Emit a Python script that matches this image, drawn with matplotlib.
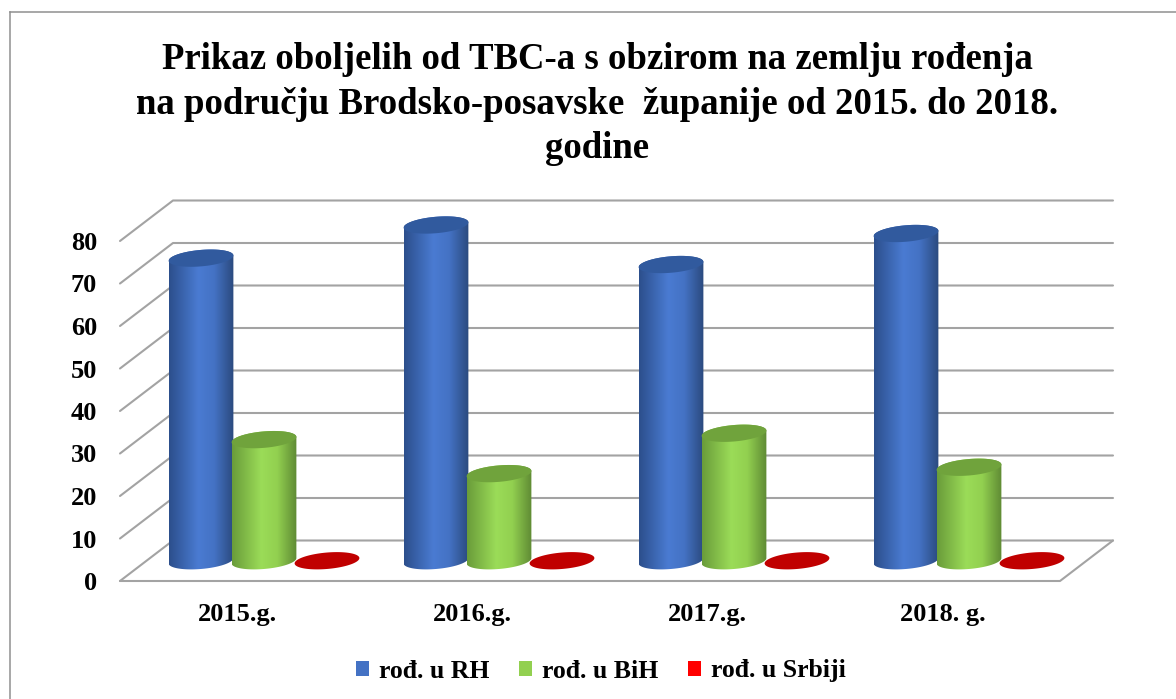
import numpy as np
import matplotlib
matplotlib.use('Agg')
import matplotlib.pyplot as plt
from matplotlib.colors import LinearSegmentedColormap
from matplotlib.lines import Line2D
from matplotlib.patches import Patch, Polygon

plt.rcParams['font.family'] = ['Liberation Serif', 'DejaVu Serif']
plt.rcParams['font.weight'] = 'bold'

title = ('Prikaz oboljelih od TBC-a s obzirom na zemlju rođenja\n'
         'na području Brodsko-posavske  županije od 2015. do 2018.\n'
         'godine')
years = ['2015.g.', '2016.g.', '2017.g.', '2018. g.']
series = ['rođ. u RH', 'rođ. u BiH', 'rođ. u Srbiji']
rh = [71.2, 79, 69.7, 77]
bih = [28.5, 20.5, 30, 22]
srbija = [0, 0, 0, 0]
y_ticks = [0, 10, 20, 30, 40, 50, 60, 70, 80]

legend_colors = ['#4472c4', '#92d050', '#ff0000']
top_colors = ['#315a9e', '#70a33c', '#c00000']
shades = [['#2c4f8c', '#4a7bd2', '#4472c4', '#2b4a7e'],
          ['#6a9c3a', '#9bdc58', '#92d050', '#5f8a34'],
          ['#c00000', '#c00000', '#c00000', '#c00000']]

# figure is 100 dpi, so these are pixel sizes
px_x = 235.0
px_y = 4.25
depth_x = 53 / px_x
depth_y = 40.5 / px_y
step = 63 / px_x
radius = 32.5
flat = 8.2
tilt = np.radians(5)

fig = plt.figure(figsize=(11.76, 6.99), dpi=100)
ax = fig.add_axes([120 / 1176, (699 - 581) / 699, 940 / 1176, 340 / 699])
ax.set_xlim(-0.5, 3.5)
ax.set_ylim(0, 80)
for s in ax.spines.values():
    s.set_visible(False)
ax.patch.set_visible(False)

# outer frame of the chart
frame = dict(color='#8f8f8f', lw=1.1, transform=fig.transFigure)
fig.add_artist(Line2D([10 / 1176, 10 / 1176], [0, 1 - 12 / 699], **frame))
fig.add_artist(Line2D([10 / 1176, 1], [1 - 12 / 699, 1 - 12 / 699], **frame))

# walls and floor
grid = dict(color='#a3a3a3', lw=1.5, clip_on=False, zorder=1, solid_capstyle='round')
for v in y_ticks:
    ax.plot([-0.5, -0.5 + depth_x, 3.5 + depth_x], [v, v + depth_y, v + depth_y], **grid)
ax.plot([-0.5, 3.5, 3.5 + depth_x], [0, 0, depth_y], **grid)


def ellipse(cx, cy, t):
    ex = radius * np.cos(t) * np.cos(tilt) - flat * np.sin(t) * np.sin(tilt)
    ey = radius * np.cos(t) * np.sin(tilt) + flat * np.sin(t) * np.cos(tilt)
    return cx + ex / px_x, cy + ey / px_y


def cylinder(x, value, s):
    base = depth_y / 2
    z = 10 + s * 3
    if value > 0:
        # lower half of the base, then upper half of the top
        bx, by = ellipse(x, base, np.linspace(np.pi, 2 * np.pi, 60))
        tx, ty = ellipse(x, base + value, np.linspace(0, np.pi, 60))
        body = Polygon(np.column_stack([np.r_[bx, tx], np.r_[by, ty]]), closed=True,
                       fc='none', ec='none', transform=ax.transData)
        ax.add_patch(body)
        cmap = LinearSegmentedColormap.from_list('c', list(zip([0, 0.45, 0.7, 1], shades[s])))
        grad = np.linspace(0, 1, 128).reshape(1, -1)
        w = radius / px_x
        im = ax.imshow(grad, cmap=cmap, aspect='auto', origin='lower', zorder=z,
                       extent=[x - w, x + w, base - 4, base + value + 4])
        im.set_clip_path(body)
        im.set_clip_box(fig.bbox)
    ex, ey = ellipse(x, base + value, np.linspace(0, 2 * np.pi, 120))
    ax.add_patch(Polygon(np.column_stack([ex, ey]), closed=True, fc=top_colors[s], ec='none',
                         clip_on=False, zorder=z + 1))


for s, values in enumerate([rh, bih, srbija]):
    for i, v in enumerate(values):
        cylinder(i + (s - 1) * step + depth_x / 2, v, s)

ax.set_xlim(-0.5, 3.5)
ax.set_ylim(0, 80)
ax.set_xticks(range(len(years)), years)
ax.set_yticks(y_ticks)
ax.tick_params(axis='x', length=0, pad=16, labelsize=19)
ax.tick_params(axis='y', length=0, pad=16.5, labelsize=19)

fig.suptitle(title, x=0.508, y=0.94, fontsize=26.5, fontweight='bold', linespacing=1.36, va='top')

handles = [Patch(fc=c, ec='none') for c in legend_colors]
fig.legend(handles, series, loc='center', bbox_to_anchor=(601 / 1176, 1 - 671 / 699), ncol=3,
           frameon=False, fontsize=18.5, handlelength=0.5, handleheight=0.5, handletextpad=0.4,
           columnspacing=1.15)

fig.savefig('out.png', dpi=100)
